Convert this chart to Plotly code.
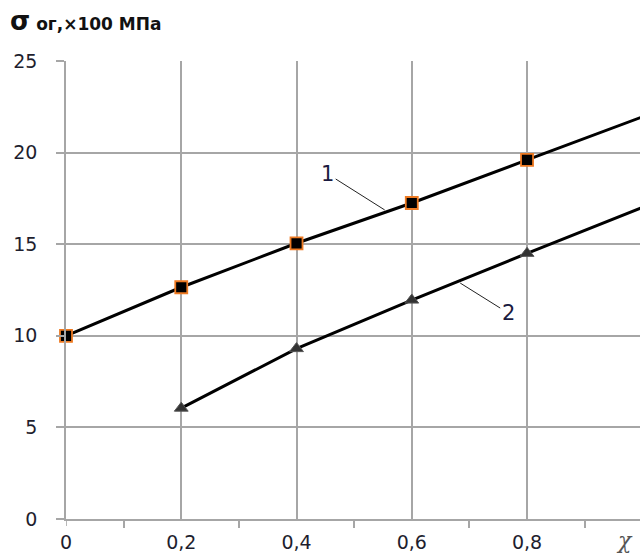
import plotly.graph_objects as go

x_vals = [0, 0.2, 0.4, 0.6, 0.8, 1.0]
series1 = [10.0, 12.65, 15.05, 17.25, 19.6, 21.95]
x2_vals = [0.2, 0.4, 0.6, 0.8, 1.0]
series2 = [6.05, 9.3, 11.95, 14.5, 17.0]
x_tickvals = [0, 0.2, 0.4, 0.6, 0.8]
x_ticktext = ["0", "0,2", "0,4", "0,6", "0,8"]
y_tickvals = [0, 5, 10, 15, 20, 25]
label_names = ["1", "2"]

W, H = 640, 554
L, R, T, B = 66, 0, 61, 35
pw = W - L - R
ph = H - T - B
xmax = 0.996

fig = go.Figure()
fig.add_trace(go.Scatter(
    x=x_vals, y=series1, mode="lines+markers", cliponaxis=False,
    line=dict(color="black", width=3),
    marker=dict(symbol="square", size=12, color="black",
                line=dict(color="#ee7a22", width=1.8)),
    showlegend=False))
fig.add_trace(go.Scatter(
    x=x2_vals, y=series2, mode="lines+markers", cliponaxis=False,
    line=dict(color="black", width=3),
    marker=dict(symbol="triangle-up", size=12, color="#333333",
                line=dict(color="#555555", width=1)),
    showlegend=False))

tickfont = dict(family="DejaVu Sans", size=19, color="#1e1e2e")

fig.update_layout(
    width=W, height=H,
    margin=dict(l=L, r=R, t=T, b=B, autoexpand=False),
    plot_bgcolor="white", paper_bgcolor="white",
    xaxis=dict(range=[0, xmax], tickvals=x_tickvals, ticktext=x_ticktext,
               showgrid=True, gridcolor="#a6a6a6", gridwidth=1.6,
               showline=True, linecolor="#a6a6a6", linewidth=1.6,
               ticks="", zeroline=False, tickfont=tickfont, automargin=False,
               ticklabelstandoff=5,
               minor=dict(tick0=0.1, dtick=0.2, ticks="outside", ticklen=7,
                          tickcolor="#a6a6a6", tickwidth=1.6, showgrid=False)),
    yaxis=dict(range=[0, 25], tickvals=y_tickvals,
               showgrid=True, gridcolor="#a6a6a6", gridwidth=1.6,
               showline=True, linecolor="#a6a6a6", linewidth=1.6,
               ticks="outside", ticklen=8, tickcolor="#a6a6a6", tickwidth=1.6,
               zeroline=False, tickfont=tickfont, ticklabelstandoff=15,
               automargin=False),
)

# tick at x = 0 below axis
fig.add_shape(type="line", xref="x", yref="paper", x0=0, x1=0, y0=0,
              y1=-7 / ph, line=dict(color="#a6a6a6", width=1.6))

# series labels with leader lines
fig.add_annotation(x=0.553, y=16.87, xref="x", yref="y", text=label_names[0],
                   showarrow=True, arrowhead=0, arrowwidth=1, arrowcolor="#222222",
                   ax=-57, ay=-36, font=dict(family="DejaVu Sans", size=21, color="#1a1a40"))
fig.add_annotation(x=0.684, y=12.88, xref="x", yref="y", text=label_names[1],
                   showarrow=True, arrowhead=0, arrowwidth=1, arrowcolor="#222222",
                   ax=48, ay=30, font=dict(family="DejaVu Sans", size=21, color="#1a1a40"))

# y-axis title
fig.add_annotation(xref="paper", yref="paper", x=(8 - L) / pw, y=1 + (T - 4) / ph,
                   xanchor="left", yanchor="top", showarrow=False,
                   text="<b><span style='font-size:26px'>σ</span><span style='font-size:17px'> ог,×100 МПа</span></b>",
                   font=dict(family="DejaVu Sans", size=17, color="#111111"))

# x-axis label
fig.add_annotation(xref="paper", yref="paper", x=(624 - L) / pw, y=-(540 - (H - B)) / ph,
                   xanchor="center", yanchor="middle", showarrow=False,
                   text="<i>χ</i>", font=dict(family="DejaVu Serif", size=22, color="#555555"))

fig.write_html("out.html", config={"displayModeBar": False},
               post_script="document.body.style.margin='0';document.body.style.padding='0';")
